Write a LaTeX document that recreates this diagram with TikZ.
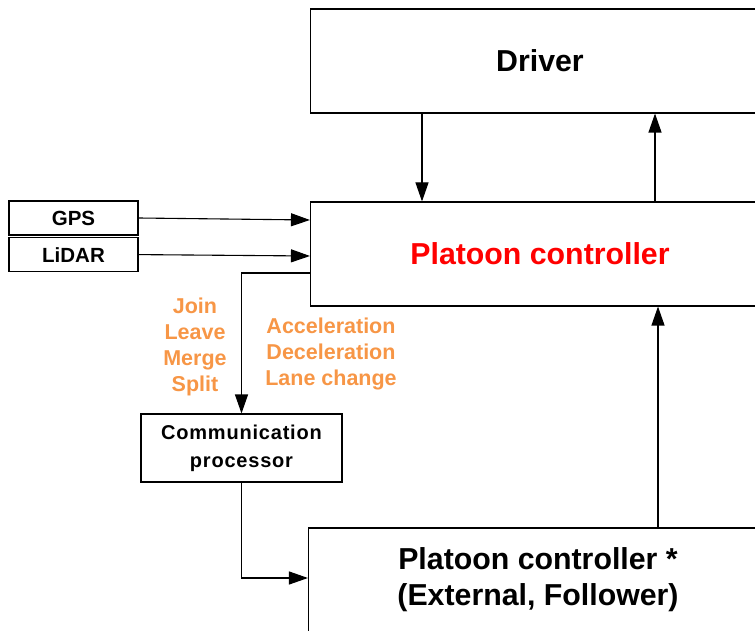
\documentclass[tikz,border=0pt]{standalone}
\usepackage{fontspec}
\setmainfont{Liberation Sans}
\usepackage{tikz}
\usetikzlibrary{arrows.meta,positioning}
\definecolor{cmdorange}{HTML}{F79646}

\begin{document}
\begin{tikzpicture}[x=1pt,y=1pt,>={Triangle[length=19pt,width=13pt]},line width=1.1pt,
    big/.style={draw,rectangle,minimum width=459pt,minimum height=104pt,font=\fontsize{30.3}{36}\selectfont\bfseries,align=center},
    sensor/.style={draw,rectangle,minimum width=129pt,minimum height=34pt,font=\fontsize{20.5}{24}\selectfont\bfseries},
    cmd/.style={text=cmdorange,align=center,font=\fontsize{21.5}{26}\selectfont\bfseries}]
  \useasboundingbox (0,0) rectangle (755,630);
  \node[big] (drv) at (540,569) {Driver};
  \node[big,text=red] (pc) at (540,376) {Platoon controller};
  \node[big] (ext) at (538,50) {Platoon controller *\\(External, Follower)};
  \node[sensor] (gps) at (73.5,412) {GPS};
  \node[sensor] (lidar) [below=1.5pt of gps] {LiDAR};
  \node[draw,rectangle,minimum width=201pt,minimum height=68pt,align=center,
        font=\fontsize{20}{28}\selectfont\bfseries\addfontfeatures{LetterSpace=4}] (comm) at (241.5,182) {Communication\\processor};
  \node[cmd] (mgmt) at (195,283) {Join\\Leave\\Merge\\Split};
  \node[cmd] (maneuver) at (331,276) {Acceleration\\Deceleration\\Lane change};
  % connections
  \draw[->] (gps.east) -- ([yshift=34pt]pc.west);
  \draw[->] (lidar.east) -- ([yshift=-2pt]pc.west);
  \draw[->] ([xshift=-118pt]drv.south) -- ([xshift=-118pt]pc.north);
  \draw[->] ([xshift=115pt]pc.north) -- ([xshift=115pt]drv.south);
  \draw[->] ([yshift=-19pt]pc.west) -| (comm.north);
  \draw[->] (comm.south) |- ([yshift=2pt]ext.west);
  \draw[->] ([xshift=120pt]ext.north) -- ([xshift=118pt]pc.south);
\end{tikzpicture}
\end{document}
